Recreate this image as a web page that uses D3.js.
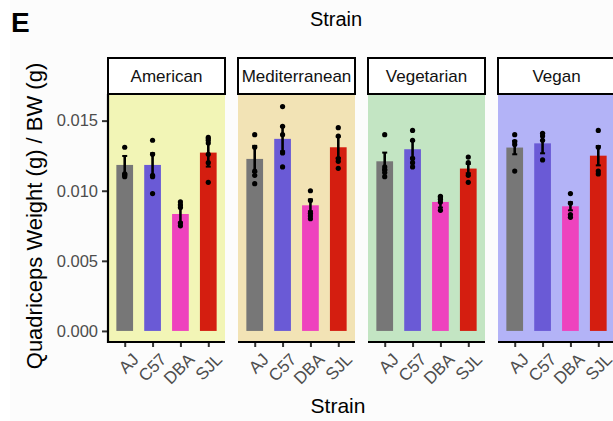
<!DOCTYPE html>
<html>
<head>
<meta charset="utf-8">
<script src="https://cdn.jsdelivr.net/npm/d3@7"></script>
<style>
  html, body { margin: 0; padding: 0; background: #fcfcfc; }
  svg { display: block; font-family: "Liberation Sans", Arial, sans-serif; }
</style>
</head>
<body>
<svg id="chart" width="613" height="421"></svg>
<script>
// Diets (facets) and mouse strains (x categories)
const diets = ["American", "Mediterranean", "Vegetarian", "Vegan"];
const strains = ["AJ", "C57", "DBA", "SJL"];
const yTicks = [0, 0.005, 0.01, 0.015];

// Group means (quadriceps weight / body weight), one row per diet, in strain order
const meansAmerican      = [0.01184, 0.01184, 0.00834, 0.01272];
const meansMediterranean = [0.01227, 0.01370, 0.00896, 0.01310];
const meansVegetarian    = [0.01210, 0.01296, 0.00920, 0.01158];
const meansVegan         = [0.01308, 0.01338, 0.00889, 0.01250];

// Standard errors of the means
const seAmerican      = [0.00064, 0.00083, 0.00060, 0.00100];
const seMediterranean = [0.00093, 0.00088, 0.00042, 0.00076];
const seVegetarian    = [0.00062, 0.00060, 0.00040, 0.00033];
const seVegan         = [0.00048, 0.00071, 0.00029, 0.00069];

// Individual animals
const ptsAmerican = [
  [0.0131, 0.0112, 0.0111, 0.0110],
  [0.0136, 0.0126, 0.0111, 0.0110, 0.0098],
  [0.0092, 0.0090, 0.0088, 0.0077, 0.0075],
  [0.0138, 0.0136, 0.0134, 0.0126, 0.0120, 0.0106]
];
const ptsMediterranean = [
  [0.0140, 0.0131, 0.0114, 0.0111, 0.0105],
  [0.0160, 0.0146, 0.0140, 0.0127, 0.0117],
  [0.0100, 0.0093, 0.0084, 0.0082, 0.0080],
  [0.0145, 0.0139, 0.0123, 0.0121, 0.0116]
];
const ptsVegetarian = [
  [0.0140, 0.0117, 0.0115, 0.0113, 0.0110],
  [0.0143, 0.0136, 0.0123, 0.0120, 0.0117],
  [0.0096, 0.0095, 0.0094, 0.0092, 0.0086],
  [0.0124, 0.0120, 0.0111, 0.0106]
];
const ptsVegan = [
  [0.0140, 0.0135, 0.0133, 0.0114],
  [0.0141, 0.0139, 0.0136, 0.0122],
  [0.0098, 0.0091, 0.0083, 0.0081],
  [0.0143, 0.0131, 0.0114, 0.0112]
];

const strainColors = ["#777777", "#6a5ad6", "#ee42be", "#d41e10"];
const panelFills = ["#f2f5b6", "#f2e3b5", "#c3e5c3", "#b3b3f7"];

const means = [meansAmerican, meansMediterranean, meansVegetarian, meansVegan];
const ses = [seAmerican, seMediterranean, seVegetarian, seVegan];
const pts = [ptsAmerican, ptsMediterranean, ptsVegetarian, ptsVegan];

const svg = d3.select("#chart");
svg.append("rect").attr("x", 0).attr("y", 0).attr("width", 10).attr("height", 421).attr("fill", "#ffffff");

const panelLeft = 108, panelW = 117, panelGap = 13;
const stripTop = 58, panelTop = 94, panelBottom = 342;

const y = d3.scaleLinear().domain([-0.00079, 0.0169]).range([panelBottom, panelTop]);
const facet = d3.scaleBand().domain(diets)
  .range([panelLeft, panelLeft + diets.length * (panelW + panelGap)])
  .paddingInner(0).paddingOuter(0);

diets.forEach((diet, di) => {
  const x0 = facet(diet);
  const x = d3.scalePoint().domain(strains).range([x0, x0 + panelW]).padding(0.6);
  const bw = x.step() * 0.6;
  const g = svg.append("g");

  // panel background
  g.append("rect").attr("x", x0).attr("y", panelTop)
    .attr("width", panelW).attr("height", panelBottom - panelTop)
    .attr("fill", panelFills[di]);

  // strip
  g.append("rect").attr("x", x0).attr("y", stripTop)
    .attr("width", panelW).attr("height", panelTop - stripTop)
    .attr("fill", "#ffffff").attr("stroke", "#000").attr("stroke-width", 2);
  g.append("text").attr("x", x0 + panelW / 2).attr("y", (stripTop + panelTop) / 2)
    .attr("dy", "0.36em").attr("text-anchor", "middle")
    .attr("font-size", 17).attr("fill", "#111").text(diet);

  // bars
  g.selectAll("rect.bar").data(strains).join("rect").attr("class", "bar")
    .attr("x", s => x(s) - bw / 2)
    .attr("y", (s, i) => y(means[di][i]))
    .attr("width", bw)
    .attr("height", (s, i) => y(0) - y(means[di][i]))
    .attr("fill", (s, i) => strainColors[i]);

  // error bars: mean ± SE
  strains.forEach((s, i) => {
    const lo = y(means[di][i] - ses[di][i]), hi = y(means[di][i] + ses[di][i]);
    g.append("line").attr("x1", x(s)).attr("x2", x(s)).attr("y1", lo).attr("y2", hi)
      .attr("stroke", "#000").attr("stroke-width", 2.6);
    [lo, hi].forEach(v => g.append("line").attr("x1", x(s) - 2.5).attr("x2", x(s) + 2.5)
      .attr("y1", v).attr("y2", v).attr("stroke", "#000").attr("stroke-width", 2));
  });

  // individual points
  strains.forEach((s, i) => {
    g.selectAll(null).data(pts[di][i]).join("circle")
      .attr("cx", x(s)).attr("cy", v => y(v)).attr("r", 2.6).attr("fill", "#000");
  });

  // bottom axis
  const ax = g.append("g").attr("transform", `translate(0,${panelBottom})`)
    .call(d3.axisBottom(x).tickSize(5).tickPadding(3));
  ax.select(".domain").remove();
  g.append("line").attr("x1", x0).attr("x2", x0 + panelW)
    .attr("y1", panelBottom).attr("y2", panelBottom).attr("stroke", "#000").attr("stroke-width", 2.2);
  ax.selectAll(".tick line").attr("stroke", "#333").attr("stroke-width", 2);
  ax.selectAll(".tick text")
    .attr("font-family", "Liberation Sans, Arial, sans-serif")
    .attr("font-size", 17).attr("fill", "#4d4d4d")
    .attr("text-anchor", "end").attr("dy", null).attr("y", null)
    .attr("transform", "translate(6,10) rotate(-45)")
    .attr("dominant-baseline", "hanging");
});

// left axis
const yAxis = svg.append("g").attr("transform", `translate(${panelLeft},0)`)
  .call(d3.axisLeft(y).tickValues(yTicks).tickFormat(d3.format(".3f")).tickSize(6).tickPadding(4));
yAxis.select(".domain").remove();
svg.append("line").attr("x1", panelLeft).attr("x2", panelLeft)
  .attr("y1", panelTop).attr("y2", panelBottom + 1).attr("stroke", "#000").attr("stroke-width", 2.2);
yAxis.selectAll(".tick line").attr("stroke", "#333").attr("stroke-width", 2);
yAxis.selectAll(".tick text").attr("font-family", "Liberation Sans, Arial, sans-serif")
  .attr("font-size", 16.5).attr("fill", "#4d4d4d");

// titles
svg.append("text").attr("x", 11).attr("y", 32).attr("font-size", 28).attr("font-weight", "bold")
  .attr("fill", "#000").text("E");
svg.append("text").attr("x", 336).attr("y", 26).attr("text-anchor", "middle")
  .attr("font-size", 20).attr("fill", "#000").text("Strain");
svg.append("text").attr("x", 338).attr("y", 413).attr("text-anchor", "middle")
  .attr("font-size", 21).attr("fill", "#000").text("Strain");
svg.append("text").attr("transform", `translate(42,${(panelTop + panelBottom) / 2 - 2}) rotate(-90)`)
  .attr("text-anchor", "middle").attr("font-size", 22).attr("fill", "#000")
  .text("Quadriceps Weight (g) / BW (g)");
</script>
</body>
</html>
